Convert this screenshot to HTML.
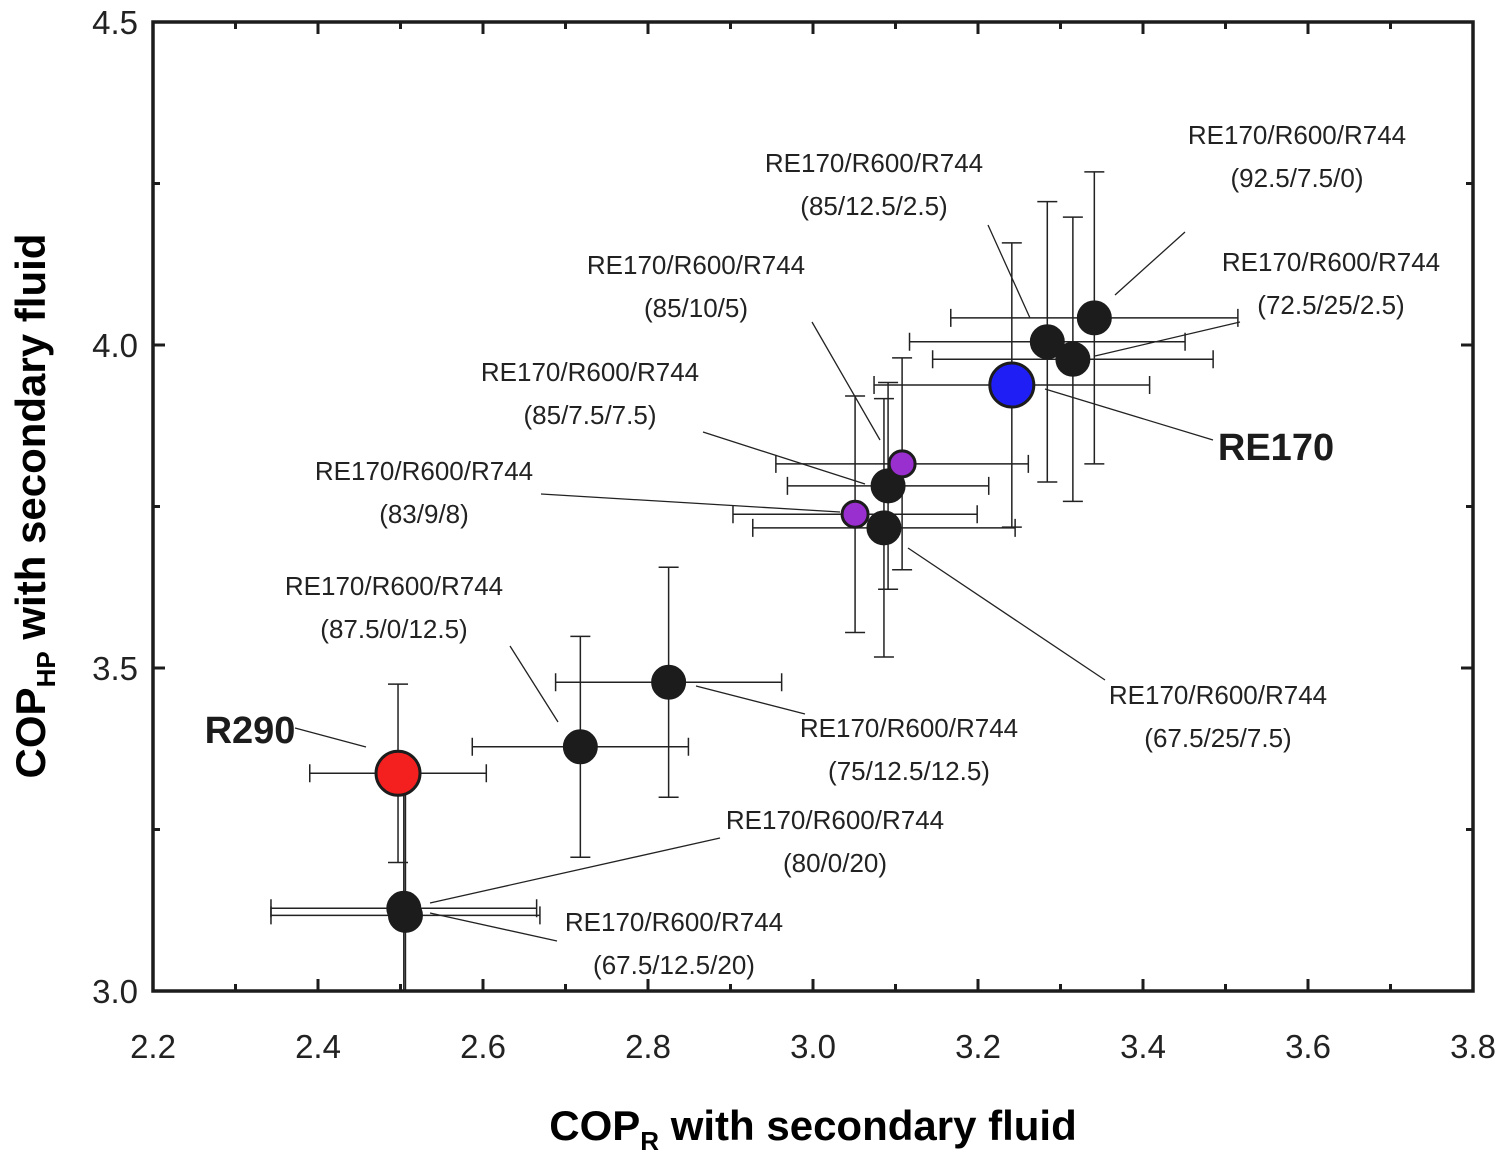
<!DOCTYPE html>
<html><head><meta charset="utf-8"><style>
html,body{margin:0;padding:0;background:#fff}
svg{display:block;font-family:"Liberation Sans",Arial,sans-serif}
</style></head><body>
<svg id="chart" width="1500" height="1158" viewBox="0 0 1500 1158">
<defs><clipPath id="plotclip"><rect x="153" y="22" width="1320" height="969"/></clipPath></defs>
<g id="errs" clip-path="url(#plotclip)"></g>
<g id="leaders"></g>
<g id="pts"></g>
<g id="labels"></g>
<g id="axes"></g>
<text x="813" y="1140" text-anchor="middle" font-size="42" font-weight="bold">COP<tspan font-size="26" dy="10">R</tspan><tspan dy="-10"> with secondary fluid</tspan></text>
<text transform="translate(45,506) rotate(-90)" text-anchor="middle" font-size="42" font-weight="bold">COP<tspan font-size="26" dy="10">HP</tspan><tspan dy="-10"> with secondary fluid</tspan></text>
</svg>
<script>
const names=["R290","80/0/20","67.5/12.5/20","87.5/0/12.5","75/12.5/12.5","83/9/8","67.5/25/7.5","85/7.5/7.5","85/10/5","RE170","85/12.5/2.5","72.5/25/2.5","92.5/7.5/0"];
const copR=[2.497,2.504,2.506,2.718,2.825,3.051,3.086,3.091,3.108,3.241,3.284,3.315,3.341];
const copHP=[3.337,3.128,3.117,3.378,3.478,3.738,3.717,3.782,3.816,3.938,4.005,3.978,4.042];
const errR=[0.107,0.161,0.163,0.131,0.137,0.148,0.159,0.122,0.153,0.167,0.167,0.17,0.174];
const errHP=[0.138,0.207,0.2,0.171,0.178,0.183,0.2,0.16,0.164,0.22,0.217,0.22,0.226];
const kinds=["red","black","black","black","black","purple","black","black","purple","blue","black","black","black"];
const xTicks=[2.2,2.4,2.6,2.8,3.0,3.2,3.4,3.6,3.8];
const yTicks=[3.0,3.5,4.0,4.5];
const X=v=>153+(v-2.2)*825, Y=v=>991-(v-3.0)*646;
const NS="http://www.w3.org/2000/svg";
function mk(tag,attrs,parent){const e=document.createElementNS(NS,tag);for(const k in attrs)e.setAttribute(k,attrs[k]);parent.appendChild(e);return e;}
const errs=document.getElementById('errs'),pts=document.getElementById('pts'),axes=document.getElementById('axes'),lab=document.getElementById('labels'),lead=document.getElementById('leaders');
const st={stroke:"#222","stroke-width":1.5,fill:"none"};
copR.forEach((v,i)=>{
  const cx=X(v),cy=Y(copHP[i]),x1=X(v-errR[i]),x2=X(v+errR[i]),y1=Y(copHP[i]+errHP[i]),y2=Y(copHP[i]-errHP[i]);
  const p=mk('path',Object.assign({d:`M${x1} ${cy}H${x2}M${x1} ${cy-9}V${cy+9}M${x2} ${cy-9}V${cy+9}M${cx} ${y1}V${y2}M${cx-10} ${y1}H${cx+10}M${cx-10} ${y2}H${cx+10}`},st),errs);
  
  
});
const fills={red:"#f42020",black:"#1c1c1c",purple:"#9a2fd0",blue:"#1f1ff5"};
const rads={red:22,black:16,purple:13,blue:22};
copR.forEach((v,i)=>{
  const c=mk('circle',{cx:X(v),cy:Y(copHP[i]),r:rads[kinds[i]],fill:fills[kinds[i]],stroke:"#1c1c1c","stroke-width":3},pts);
  
  
});
const fr=mk('rect',{x:153,y:22,width:1320,height:969,fill:"none",stroke:"#1c1c1c","stroke-width":3.5},axes);


let td="";
for(let k=0;k<=16;k++){const x=153+k*82.5,L=k%2?7:12;td+=`M${x} 991V${991-L}M${x} 22V${22+L}`;}
for(let k=0;k<=6;k++){const y=991-k*161.5,L=k%2?7:12;td+=`M153 ${y}H${153+L}M1473 ${y}H${1473-L}`;}
const tk=mk('path',{d:td,stroke:"#1c1c1c","stroke-width":3,fill:"none"},axes);


xTicks.forEach(v=>{const t=mk('text',{x:X(v),y:1058,"text-anchor":"middle","font-size":33,fill:"#222"},axes);t.textContent=v.toFixed(1);

});
yTicks.forEach(v=>{const t=mk('text',{x:138,y:Y(v)+12,"text-anchor":"end","font-size":33,fill:"#222"},axes);t.textContent=v.toFixed(1);

});
const anns=[
["(92.5/7.5/0)",1297,135,[1185,232,1115,295]],
["(85/12.5/2.5)",874,163,[988,225,1030,318]],
["(72.5/25/2.5)",1331,262,[1240,322,1095,356]],
["(85/10/5)",696,265,[812,322,880,440]],
["(85/7.5/7.5)",590,372,[703,432,865,484]],
["(83/9/8)",424,471,[541,494,840,512]],
["(87.5/0/12.5)",394,586,[510,646,558,722]],
["(75/12.5/12.5)",909,728,[805,714,696,686]],
["(67.5/25/7.5)",1218,695,[1105,680,908,548]],
["(80/0/20)",835,820,[720,838,430,903]],
["(67.5/12.5/20)",674,922,[557,941,430,913]]];
anns.forEach(a=>{
  const t=mk('text',{x:a[1],y:a[2]+9,"text-anchor":"middle","font-size":26,fill:"#222"},lab);
  
  
  const s1=mk('tspan',{x:a[1]},t);s1.textContent="RE170/R600/R744";
  const s2=mk('tspan',{x:a[1],dy:43},t);s2.textContent=a[0];
  const l=mk('line',{x1:a[3][0],y1:a[3][1],x2:a[3][2],y2:a[3][3],stroke:"#222","stroke-width":1.3},lead);
  
  
});
[["R290",250,743,[295,728,366,747]],["RE170",1276,460,[1213,440,1045,389]]].forEach(a=>{
  const t=mk('text',{x:a[1],y:a[2],"text-anchor":"middle","font-size":38,"font-weight":"bold",fill:"#1c1c1c"},lab);
  t.textContent=a[0];
  
  
  const l=mk('line',{x1:a[3][0],y1:a[3][1],x2:a[3][2],y2:a[3][3],stroke:"#222","stroke-width":1.3},lead);
  
  
});
</script>
</body></html>
